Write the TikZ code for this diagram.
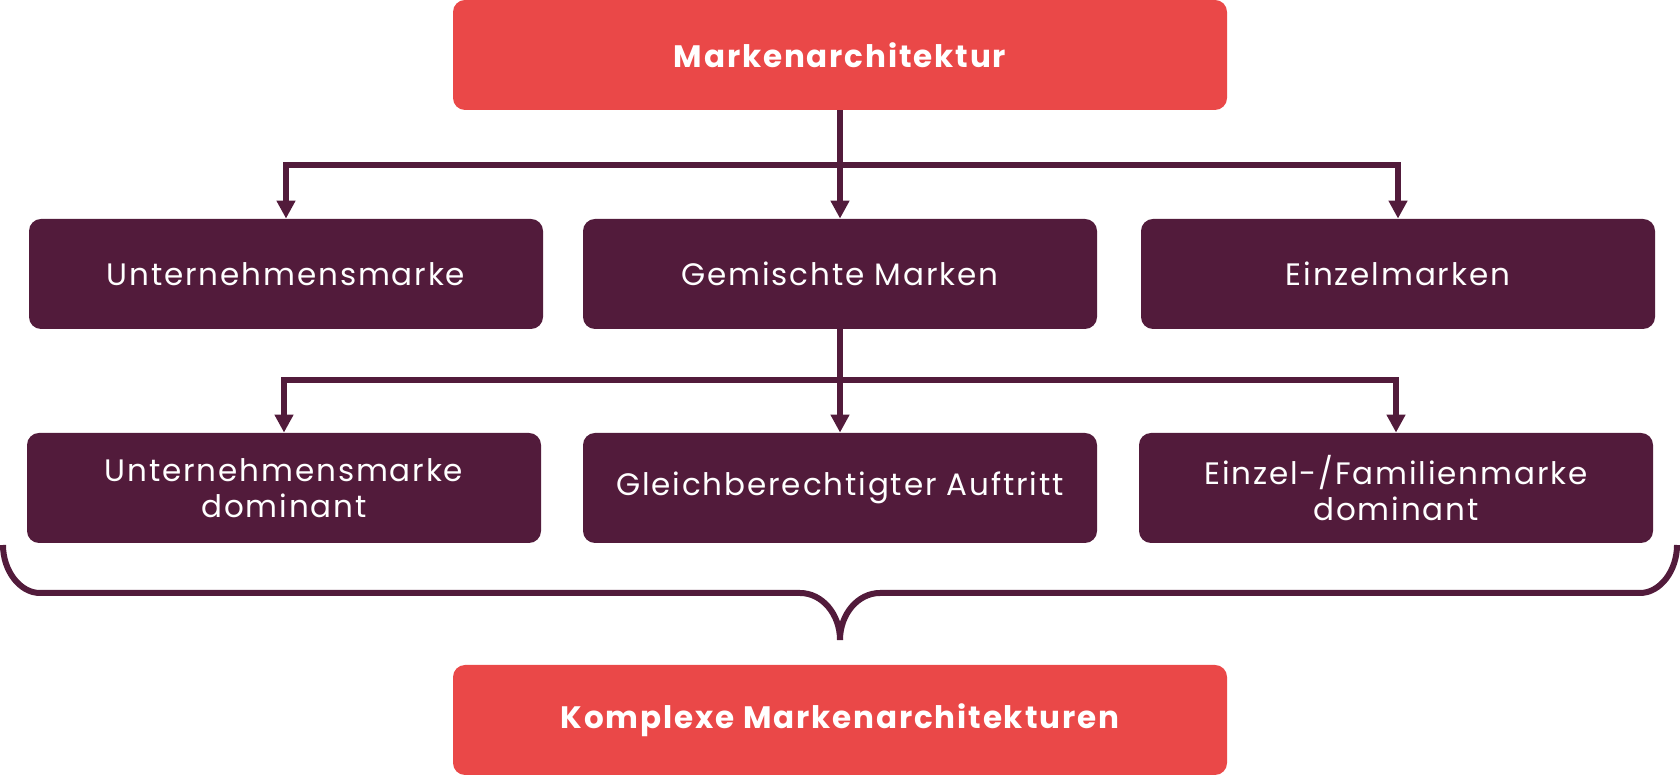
\documentclass[tikz,border=0pt]{standalone}
\usepackage{fontspec}
\setmainfont{Poppins}[LetterSpace=6]
\usepackage{xcolor}
\usetikzlibrary{arrows.meta,positioning,calc}
\definecolor{brandred}{HTML}{EA4848}
\definecolor{brandplum}{HTML}{521B3B}

\begin{document}
\begin{tikzpicture}[x = .5pt, y = .5pt, every node/.style={anchor = center, text = white, font = \fontsize{15.5}{18}\selectfont},
  redbox/.style = {fill = brandred, rounded corners = 6pt, minimum width = 387pt, minimum height = 55pt, font = \fontsize{15.5}{18}\selectfont\bfseries},
  plumbox/.style = {fill = brandplum, rounded corners = 6pt, minimum width = 257pt, minimum height = 55pt, align = center},
  conn/.style = {draw = brandplum, line width = 3pt, -{Triangle[width = 9pt, length = 9pt]}},
  brace/.style = {draw = brandplum, line width = 3pt}]
\useasboundingbox (0,0) rectangle (1680,775);
\node[redbox] (arch) at (840,720) {Markenarchitektur};
\node[plumbox] (unt) at (286,501) {Unternehmensmarke};
\node[plumbox] (gem) at (840,501) {Gemischte Marken};
\node[plumbox] (einz) at (1398,501) {Einzelmarken};
\node[plumbox] (untdom) at (284,287) {Unternehmensmarke\\dominant};
\node[plumbox] (gleich) at (840,287) {Gleichberechtigter Auftritt};
\node[plumbox] (famdom) at (1396,287) {Einzel-/Familienmarke\\dominant};
\node[redbox] (komplex) at (840,55) {Komplexe Markenarchitekturen};
\coordinate (split1) at (840,610);
\coordinate (split2) at (840,395);
\draw[conn] (arch) -- (gem);
\draw[conn] (split1) -| (unt);
\draw[conn] (split1) -| (einz);
\draw[conn] (gem) -- (gleich);
\draw[conn] (split2) -| (untdom);
\draw[conn] (split2) -| (famdom);
\coordinate (bl) at (3,230);
\coordinate (bm) at (840,135);
\coordinate (br) at (1677,230);
\draw[brace] (bl) .. controls (3,204) and (20,182) .. (40,182) -- (800,182) .. controls (822,182) and (840,161) .. (bm);
\draw[brace] (bm) .. controls (840,161) and (858,182) .. (880,182) -- (1640,182) .. controls (1660,182) and (1677,204) .. (br);
\end{tikzpicture}
\end{document}
